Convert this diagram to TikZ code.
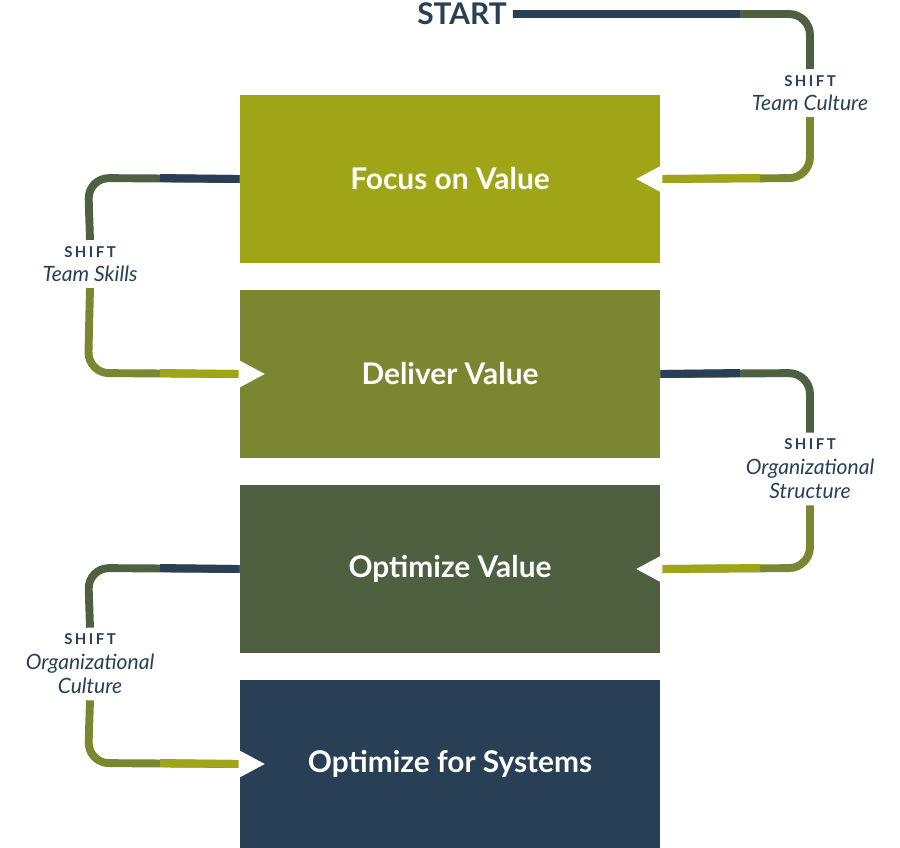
\documentclass[tikz,border=0pt]{standalone}
\usepackage{fontspec}
\setmainfont{Lato}
\definecolor{navy}{HTML}{283F56}
\definecolor{moss}{HTML}{4F6041}
\definecolor{olive}{HTML}{7A8630}
\definecolor{lime}{HTML}{A0A517}
\tikzset{
  stage/.style={minimum width=8.4cm,minimum height=3.36cm,inner sep=0pt,text=white,font=\fontsize{17}{20}\selectfont\bfseries},
  shiftlabel/.style={align=center,text=navy,font=\fontsize{12}{14}\selectfont\itshape},
  link/.style={line width=4.5pt,rounded corners=12pt},
}
\newcommand{\shifttag}{{\fontsize{8.5}{10}\selectfont\upshape\bfseries S\,H\,I\,F\,T}}
\begin{document}
\begin{tikzpicture}[x=0.02cm,y=-0.02cm]
    \useasboundingbox (0,0) rectangle (900,848);
    \node[stage,fill=lime] (F) at (450,179) {Focus on Value};
    \node[stage,fill=olive] (D) at (450,374) {Deliver Value};
    \node[stage,fill=moss] (O) at (450,569) {Optimize Value};
    \node[stage,fill=navy] (S) at (450,764) {Optimize for Systems};
    \node[text=navy,font=\fontsize{17}{20}\selectfont\bfseries] (start) at (462,14) {START};
    \node[shiftlabel] (s1) at (810,93) {\shifttag\\Team Culture};
    \node[shiftlabel] (s2) at (90,264) {\shifttag\\Team Skills};
    \node[shiftlabel] (s3) at (810,469) {\shifttag\\Organizational\\Structure};
    \node[shiftlabel] (s4) at (90,664) {\shifttag\\Organizational\\Culture};
    % connectors
    \draw[link,moss] (start.east) -- (810,14) -- (s1.north);
    \draw[link,navy] (start.east) -- (740,14);
    \draw[link,olive] (s1.south) -- (810,178) -- (F.east);
    \draw[link,lime] (760,178) -- (F.east);
    \draw[link,moss] (F.west) -- (88,178) -- (s2.north);
    \draw[link,navy] (F.west) -- (160,178);
    \draw[link,olive] (s2.south) -- (88,373) -- (D.west);
    \draw[link,lime] (160,373) -- (D.west);
    \draw[link,moss] (D.east) -- (810,373) -- (s3.north);
    \draw[link,navy] (D.east) -- (740,373);
    \draw[link,olive] (s3.south) -- (810,568) -- (O.east);
    \draw[link,lime] (760,568) -- (O.east);
    \draw[link,moss] (O.west) -- (88,568) -- (s4.north);
    \draw[link,navy] (O.west) -- (160,568);
    \draw[link,olive] (s4.south) -- (88,763) -- (S.west);
    \draw[link,lime] (160,763) -- (S.west);
    % notches
    \fill[white] (F.east) ++(2,-14) -- ++(-26,14) -- ++(26,14) -- cycle;
    \fill[white] (D.west) ++(-1,-14) -- ++(26,14) -- ++(-26,14) -- cycle;
    \fill[white] (O.east) ++(2,-14) -- ++(-26,14) -- ++(26,14) -- cycle;
    \fill[white] (S.west) ++(-1,-14) -- ++(26,14) -- ++(-26,14) -- cycle;
\end{tikzpicture}
\end{document}
